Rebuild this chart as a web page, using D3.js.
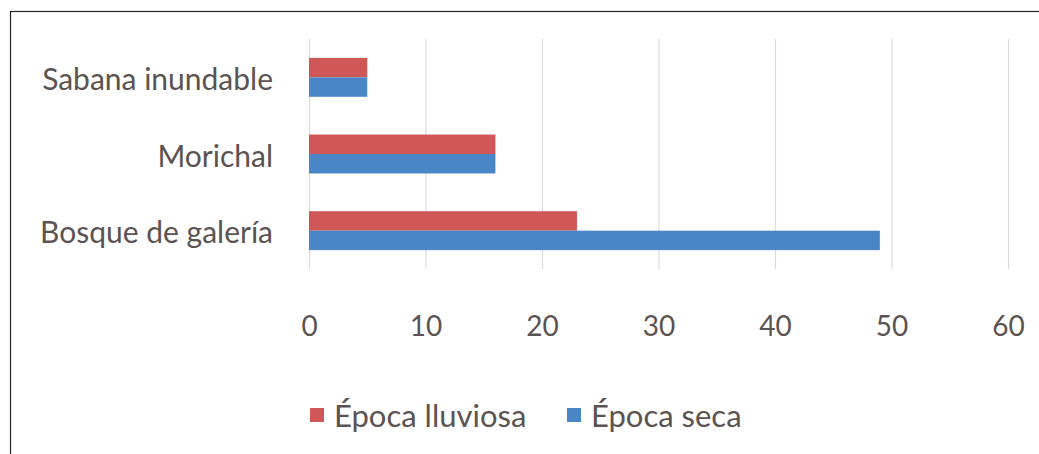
<!DOCTYPE html>
<html lang="es">
<head>
<meta charset="utf-8">
<title>Época lluviosa vs seca</title>
<script src="https://cdn.jsdelivr.net/npm/d3@7"></script>
<style>
  body { margin: 0; background: #fff; }
  text { font-family: Lato, "Open Sans", sans-serif; fill: #5b5352; }
</style>
</head>
<body>
<script>
// data
const categories = ["Sabana inundable", "Morichal", "Bosque de galería"]
const lluviosa = [5, 16, 23]
const seca = [5, 16, 49]
const seriesNames = ["Época lluviosa", "Época seca"]
const seriesColors = ["#d05757", "#4a86c7"]
const ticks = [0, 10, 20, 30, 40, 50, 60]

const w = 1039, h = 454

const svg = d3.select("body").append("svg")
    .attr("width", w)
    .attr("height", h)

// outer frame
svg.append("rect")
    .attr("x", 10.5).attr("y", 11.5)
    .attr("width", w + 20).attr("height", h + 20)
    .attr("fill", "none").attr("stroke", "#222").attr("stroke-width", 1.2)

const xScale = d3.scaleLinear().domain([0, 60]).range([309, 1008])
const yScale = d3.scaleBand().domain(categories).range([39, 269])
const sub = d3.scaleBand().domain(seriesNames).range([0, yScale.bandwidth()]).paddingOuter(0.97)

// gridlines
svg.append("g").selectAll("line")
    .data(ticks)
    .enter().append("line")
    .attr("x1", d => xScale(d) + 0.5).attr("x2", d => xScale(d) + 0.5)
    .attr("y1", 39).attr("y2", 269)
    .attr("stroke", "#dcdcdc").attr("stroke-width", 1.2)

// x tick labels
const xAxis = d3.axisBottom(xScale).tickValues(ticks).tickSize(0).tickPadding(0)
const gx = svg.append("g").attr("transform", "translate(0, 311)").call(xAxis)
gx.select(".domain").remove()
gx.selectAll("text")
    .attr("font-size", 28)
    .attr("font-family", "'Open Sans', sans-serif")
    .attr("fill", "#5b5352")
    .attr("dy", "0.9em")

// y category labels
const yAxis = d3.axisLeft(yScale).tickSize(0).tickPadding(0)
const gy = svg.append("g").attr("transform", "translate(273, 3)").call(yAxis)
gy.select(".domain").remove()
gy.selectAll("text")
    .attr("font-size", 30)
    .attr("font-family", "Lato, sans-serif")
    .attr("fill", "#5b5352")

// bars
const rows = categories.map((c, i) => ({ cat: c, vals: [lluviosa[i], seca[i]] }))
const groups = svg.append("g").selectAll("g")
    .data(rows)
    .enter().append("g")
    .attr("transform", d => `translate(0, ${yScale(d.cat)})`)

groups.selectAll("rect")
    .data(d => d.vals.map((v, j) => ({ name: seriesNames[j], v: v, j: j })))
    .enter().append("rect")
    .attr("x", xScale(0))
    .attr("y", d => sub(d.name))
    .attr("width", d => xScale(d.v) - xScale(0))
    .attr("height", sub.bandwidth())
    .attr("fill", d => seriesColors[d.j])

// legend
const legendX = [310, 567]
const legend = svg.append("g").selectAll("g")
    .data(seriesNames)
    .enter().append("g")
    .attr("transform", (d, i) => `translate(${legendX[i]}, 408)`)

legend.append("rect")
    .attr("width", 14).attr("height", 14)
    .attr("fill", (d, i) => seriesColors[i])

legend.append("text")
    .attr("x", 24).attr("y", 19)
    .attr("font-size", 31)
    .text(d => d)
</script>
</body>
</html>
